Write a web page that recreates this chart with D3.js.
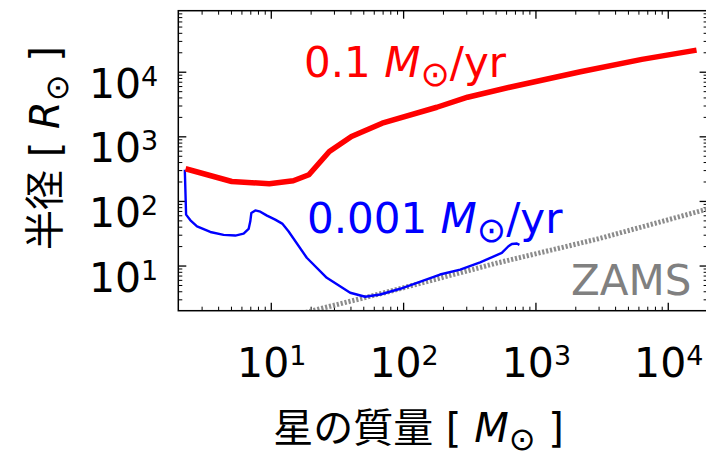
<!DOCTYPE html>
<html>
<head>
<meta charset="utf-8">
<script src="https://cdn.jsdelivr.net/npm/d3@7"></script>
<style>
  body { margin: 0; background: #fff; }
  svg { display: block; }
  .tick line { stroke: #000; }
  text { font-family: "DejaVu Sans", "Noto Sans CJK JP", sans-serif; }
  .jp { font-family: "Noto Sans CJK JP", "DejaVu Sans", sans-serif; }
</style>
</head>
<body>
<svg width="706" height="452"></svg>
<script>
// accretion rate 0.1 Msun/yr
var redMass   = [2.27, 5.07, 9.75, 14.8, 19.4, 27.7, 40.7, 69.5, 180, 307, 665, 2188, 6370, 16500];
var redRadius = [315, 200, 185, 205, 254, 582, 992, 1596, 2818, 4030, 5860, 10000, 15540, 21600];

// accretion rate 0.001 Msun/yr
var blueMass   = [2.24, 2.29, 2.47, 2.77, 3.49, 4.40, 5.39, 6.23, 6.80, 7.0, 7.13, 7.64, 8.33, 9.36,
                  10.8, 12.2, 13.6, 18.7, 26.5, 39.8, 51.7, 67.1, 95.1, 190, 270, 382, 557, 625, 663, 724, 757];
var blueRadius = [303, 61.4, 50.1, 40.5, 33.1, 29.8, 29.1, 31.2, 36.9, 48.3, 65.2, 71.4, 68.2, 59.2,
                  51.3, 44.6, 33.9, 13.2, 6.46, 3.79, 3.29, 3.56, 4.37, 7.26, 8.67, 11.2, 15.7, 19.9, 21.6, 21.9, 20.9];

// zero-age main sequence
var zamsMass   = [15, 80, 500, 3000, 20000];
var zamsRadius = [1.7, 4.0, 10.8, 26, 75];

var majorTicks = [10, 100, 1000, 10000];
var tickExp = ["1", "2", "3", "4"];

var svg = d3.select("svg"),
    margin = {top: 10.7, left: 178.3},
    width = 529.3,
    height = 300,
    g = svg.append("g").attr("transform", "translate(" + margin.left + "," + margin.top + ")");

var x = d3.scaleLog().domain([2, 2e4]).range([0, width]),
    y = d3.scaleLog().domain([2, 8.8e4]).range([height, 0]);

function minors(scale) {
  var d = scale.domain(), out = [];
  for (var p = 1; p <= 10000; p *= 10) {
    for (var k = 2; k <= 9; k++) {
      var v = k * p;
      if (v > d[0] && v < d[1]) out.push(v);
    }
  }
  return out;
}

g.append("defs").append("clipPath").attr("id", "clip")
  .append("rect").attr("width", width).attr("height", height);

// ticks on all four sides, pointing inward
function addAxis(axisFn, scale, tr) {
  var a = g.append("g").attr("transform", tr);
  a.append("g").call(axisFn(scale).tickValues(majorTicks).tickSize(-8).tickFormat(""))
    .selectAll("line").attr("stroke-width", 1.3);
  a.append("g").call(axisFn(scale).tickValues(minors(scale)).tickSize(-4).tickFormat(""))
    .selectAll("line").attr("stroke-width", 1);
  a.selectAll(".domain").remove();
}
addAxis(d3.axisBottom, x, "translate(0," + height + ")");
addAxis(d3.axisTop, x, "translate(0,0)");
addAxis(d3.axisLeft, y, "translate(0,0)");
addAxis(d3.axisRight, y, "translate(" + width + ",0)");

var plot = g.append("g").attr("clip-path", "url(#clip)");

var line = d3.line()
    .x(function(d) { return x(d[0]); })
    .y(function(d) { return y(d[1]); });

plot.append("path")
  .attr("d", line(d3.zip(zamsMass, zamsRadius)))
  .attr("fill", "none")
  .attr("stroke", "#8c8c8c")
  .attr("stroke-width", 5)
  .attr("stroke-dasharray", "2.2,1.8");

plot.append("path")
  .attr("d", line(d3.zip(blueMass, blueRadius)))
  .attr("fill", "none")
  .attr("stroke", "#0000ff")
  .attr("stroke-width", 2.4)
  .attr("stroke-linejoin", "round");

plot.append("path")
  .attr("d", line(d3.zip(redMass, redRadius)))
  .attr("fill", "none")
  .attr("stroke", "#ff0000")
  .attr("stroke-width", 5.5)
  .attr("stroke-linejoin", "round");

// frame
g.append("rect")
  .attr("width", width).attr("height", height)
  .attr("fill", "none").attr("stroke", "#000").attr("stroke-width", 1.5);

// tick labels
var yl = g.append("g").selectAll("text").data(majorTicks).enter().append("text")
  .attr("x", -20)
  .attr("y", function(d) { return y(d) + 26; })
  .attr("text-anchor", "end")
  .style("font-size", "41px");
yl.append("tspan").text("10");
yl.append("tspan").attr("dy", -12).style("font-size", "27px").text(function(d, i) { return tickExp[i]; });

var xl = g.append("g").selectAll("text").data(majorTicks).enter().append("text")
  .attr("x", function(d) { return x(d) + 1; })
  .attr("y", height + 66)
  .attr("text-anchor", "middle")
  .style("font-size", "41px");
xl.append("tspan").text("10");
xl.append("tspan").attr("dy", -12).style("font-size", "27px").text(function(d, i) { return tickExp[i]; });

// series labels
function rateLabel(txt, color, px, py) {
  var t = svg.append("text").attr("x", px).attr("y", py)
    .attr("fill", color).style("font-size", "42px");
  t.append("tspan").text(txt + " ");
  t.append("tspan").style("font-style", "italic").text("M");
  t.append("tspan").attr("dy", 9).style("font-size", "35px").text("\u2299");
  t.append("tspan").attr("dy", -9).text("/yr");
}
rateLabel("0.1", "#ff0000", 304, 76.7);
rateLabel("0.001", "#0000ff", 307, 233.3);

svg.append("text").attr("x", 571).attr("y", 295)
  .attr("fill", "#808080").style("font-size", "42px").text("ZAMS");

// axis titles
var xt = svg.append("text").attr("x", 418.5).attr("y", 442)
  .attr("text-anchor", "middle").style("font-size", "40px");
xt.append("tspan").attr("class", "jp").text("星の質量");
xt.append("tspan").text(" [ ");
xt.append("tspan").style("font-style", "italic").text("M");
xt.append("tspan").attr("dy", 8).style("font-size", "32px").text("\u2299");
xt.append("tspan").attr("dy", -8).text(" ]");

var yt = svg.append("text").attr("transform", "translate(59,148) rotate(-90)")
  .attr("text-anchor", "middle").style("font-size", "40px");
yt.append("tspan").attr("class", "jp").text("半径");
yt.append("tspan").text(" [ ");
yt.append("tspan").style("font-style", "italic").text("R");
yt.append("tspan").attr("dy", 9).style("font-size", "32px").text("\u2299");
yt.append("tspan").attr("dy", -9).text(" ]");
</script>
</body>
</html>
